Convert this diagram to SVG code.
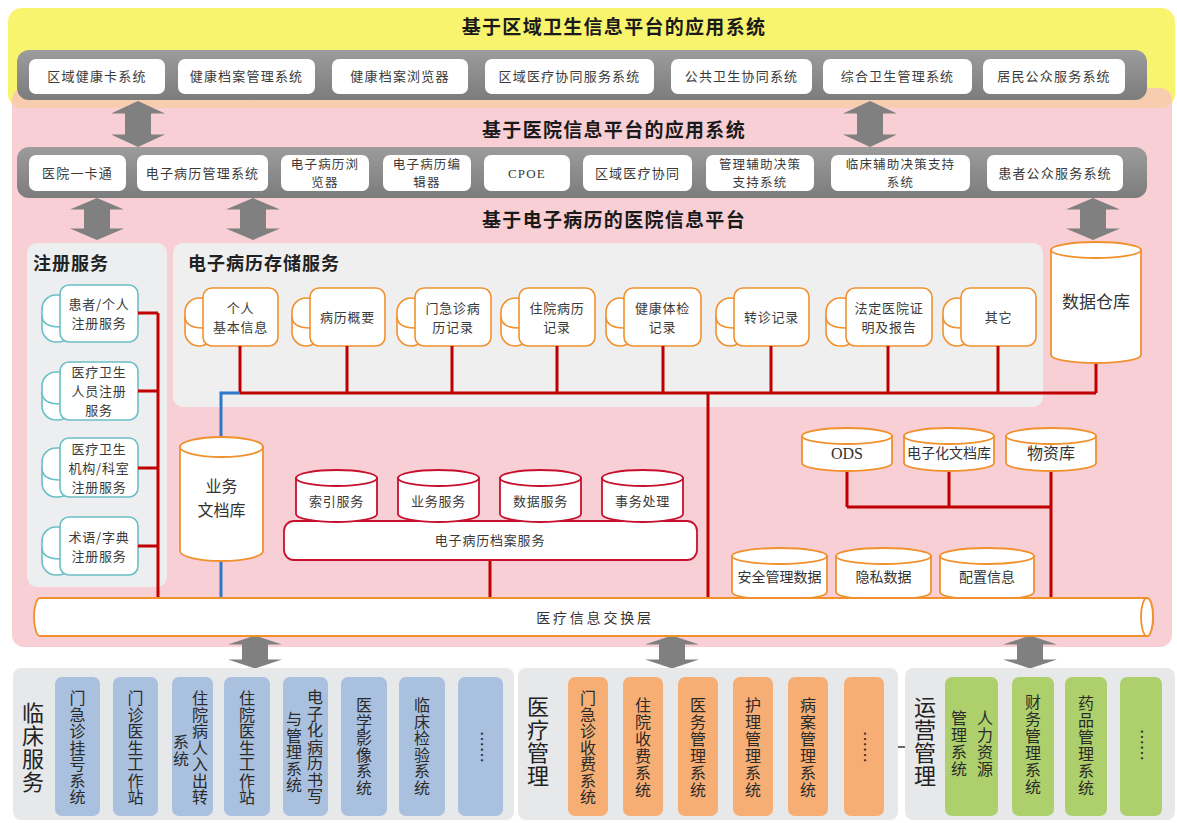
<svg xmlns="http://www.w3.org/2000/svg" width="1177" height="823" viewBox="0 0 1177 823">
<defs>
<style>
text{font-family:"Noto Sans CJK SC","Noto Sans",sans-serif;fill:#333}
.t1{font-size:19px;font-weight:bold;letter-spacing:1.3px;fill:#1a1a1a;text-anchor:middle}
.bar{fill:url(#barg)}
.bx{fill:#fff}
.bt{font-size:13px;letter-spacing:1.2px;text-anchor:middle;fill:#3a3a3a}
.bt2{font-size:12.5px}
.sec{font-size:18px;font-weight:bold;fill:#222;letter-spacing:1px}
.reg{fill:#fff;stroke:#6bbfc6;stroke-width:1.6}
.emr{fill:#fff;stroke:#f0912e;stroke-width:1.6}
.st{font-size:13px;letter-spacing:0.8px;text-anchor:middle;fill:#3a3a3a}
.cyl{fill:#fff;stroke:#f0912e;stroke-width:1.8}
.rcyl{fill:#fff;stroke:#c8102e;stroke-width:1.8}
.ct{font-size:14px;text-anchor:middle;fill:#333}
.red{fill:none;stroke:#c00000;stroke-width:3}
.blue{fill:none;stroke:#2f78c8;stroke-width:3}
.arr{fill:#808080}
.vt{font-size:16px;letter-spacing:0.5px;fill:#2a2a2a;writing-mode:vertical-rl;text-anchor:start}
.vt6{letter-spacing:1px}
.dots{font-size:16px;text-anchor:middle;fill:#2a2a2a}
.lab{font-size:22px;letter-spacing:1px;fill:#222;writing-mode:vertical-rl;text-anchor:start}
.colb{fill:#a9c0de}
.colo{fill:#f6ae74}
.colg{fill:#add06c}
.pan{fill:#e6e8ea}
.lat{font-family:"Liberation Serif",serif}
</style>
<linearGradient id="barg" x1="0" y1="0" x2="0" y2="1">
<stop offset="0" stop-color="#9c9c9c"/><stop offset="1" stop-color="#7c7c7c"/>
</linearGradient>
<path id="dbl" class="arr" d="M0,-22 L27,-10 L13,-10 L13,10 L27,10 L0,22 L-27,10 L-13,10 L-13,-10 L-27,-10 Z"/>
</defs>

<!-- background layers -->
<g id="regional-layer">
<rect x="8" y="8" width="1167" height="100" rx="14" fill="#f9f46e"/>
</g>
<g id="hospital-layer">
<rect x="12" y="88" width="1160" height="559" rx="12" fill="#f6bfc5" fill-opacity="0.75"/>
</g>

<!-- regional application systems -->
<g id="regional-apps">
<text class="t1" x="614" y="34">基于区域卫生信息平台的应用系统</text>
<rect class="bar" x="17" y="50" width="1130" height="50" rx="12"/>
<rect class="bx" x="29" y="59" width="136" height="35" rx="7"/>
<text class="bt" x="97" y="81">区域健康卡系统</text>
<rect class="bx" x="178" y="59" width="137" height="35" rx="7"/>
<text class="bt" x="246.5" y="81">健康档案管理系统</text>
<rect class="bx" x="332" y="59" width="136" height="35" rx="7"/>
<text class="bt" x="400" y="81">健康档案浏览器</text>
<rect class="bx" x="485" y="59" width="169" height="35" rx="7"/>
<text class="bt" x="569.5" y="81">区域医疗协同服务系统</text>
<rect class="bx" x="671" y="59" width="141" height="35" rx="7"/>
<text class="bt" x="741.5" y="81">公共卫生协同系统</text>
<rect class="bx" x="823" y="59" width="149" height="35" rx="7"/>
<text class="bt" x="897.5" y="81">综合卫生管理系统</text>
<rect class="bx" x="983" y="59" width="142" height="35" rx="7"/>
<text class="bt" x="1054" y="81">居民公众服务系统</text>
</g>

<!-- hospital application systems -->
<g id="hospital-apps">
<text class="t1" x="614" y="137">基于医院信息平台的应用系统</text>
<rect class="bar" x="17" y="147" width="1130" height="51" rx="12"/>
<rect class="bx" x="29" y="155" width="97" height="36" rx="7"/>
<text class="bt" x="77.5" y="178">医院一卡通</text>
<rect class="bx" x="137" y="155" width="131" height="36" rx="7"/>
<text class="bt" x="202.5" y="178">电子病历管理系统</text>
<rect class="bx" x="281" y="155" width="88" height="36" rx="7"/>
<text class="bt bt2" x="325" y="168.5">电子病历浏</text>
<text class="bt bt2" x="325" y="187">览器</text>
<rect class="bx" x="383" y="155" width="88" height="36" rx="7"/>
<text class="bt bt2" x="427" y="168.5">电子病历编</text>
<text class="bt bt2" x="427" y="187">辑器</text>
<rect class="bx" x="484" y="155" width="86" height="36" rx="7"/>
<text class="bt lat" x="527" y="178">CPOE</text>
<rect class="bx" x="583" y="155" width="109" height="36" rx="7"/>
<text class="bt" x="637.5" y="178">区域医疗协同</text>
<rect class="bx" x="706" y="155" width="108" height="36" rx="7"/>
<text class="bt bt2" x="760" y="168.5">管理辅助决策</text>
<text class="bt bt2" x="760" y="187">支持系统</text>
<rect class="bx" x="831" y="155" width="139" height="36" rx="7"/>
<text class="bt bt2" x="900.5" y="168.5">临床辅助决策支持</text>
<text class="bt bt2" x="900.5" y="187">系统</text>
<rect class="bx" x="987" y="155" width="136" height="36" rx="7"/>
<text class="bt" x="1055" y="178">患者公众服务系统</text>
</g>

<g id="platform-title">
<text class="t1" x="614" y="227">基于电子病历的医院信息平台</text>
</g>

<!-- registration services -->
<g id="registration-services">
<rect x="27" y="243" width="140" height="344" rx="10" fill="#eceef0"/>
<text class="sec" x="33" y="270">注册服务</text>
<g id="reg-patient">
<rect class="reg" x="42" y="295" width="30" height="47" rx="14"/>
<path class="reg" d="M42,315 Q42,327 60,327" fill="none"/>
<rect class="reg" x="60" y="285" width="78" height="57" rx="9"/>
<text class="st" x="99" y="309">患者/个人</text>
<text class="st" x="99" y="328">注册服务</text>
</g>
<g id="reg-staff">
<rect class="reg" x="42" y="372" width="30" height="48" rx="14"/>
<path class="reg" d="M42,392 Q42,404 60,404" fill="none"/>
<rect class="reg" x="60" y="362" width="78" height="58" rx="9"/>
<text class="st" x="99" y="377">医疗卫生</text>
<text class="st" x="99" y="396">人员注册</text>
<text class="st" x="99" y="415">服务</text>
</g>
<g id="reg-org">
<rect class="reg" x="42" y="448" width="30" height="49" rx="14"/>
<path class="reg" d="M42,468 Q42,480 60,480" fill="none"/>
<rect class="reg" x="60" y="438" width="78" height="59" rx="9"/>
<text class="st" x="99" y="453.5">医疗卫生</text>
<text class="st" x="99" y="472.5">机构/科室</text>
<text class="st" x="99" y="491.5">注册服务</text>
</g>
<g id="reg-term">
<rect class="reg" x="42" y="527" width="30" height="48" rx="14"/>
<path class="reg" d="M42,547 Q42,559 60,559" fill="none"/>
<rect class="reg" x="60" y="517" width="78" height="58" rx="9"/>
<text class="st" x="99" y="541.5">术语/字典</text>
<text class="st" x="99" y="560.5">注册服务</text>
</g>
</g>

<!-- EMR storage services -->
<g id="emr-storage">
<rect x="173" y="243" width="870" height="164" rx="10" fill="#efefef"/>
<text class="sec" x="188" y="270">电子病历存储服务</text>
<g id="st-basic">
<rect class="emr" x="185" y="298" width="28" height="48" rx="14"/>
<path class="emr" d="M185,316 Q185,328 203,328" fill="none"/>
<rect class="emr" x="203" y="288" width="75" height="58" rx="9"/>
<text class="st" x="240.5" y="312.5">个人</text>
<text class="st" x="240.5" y="331.5">基本信息</text>
</g>
<g id="st-summary">
<rect class="emr" x="292" y="298" width="28" height="48" rx="14"/>
<path class="emr" d="M292,316 Q292,328 310,328" fill="none"/>
<rect class="emr" x="310" y="288" width="75" height="58" rx="9"/>
<text class="st" x="347.5" y="322">病历概要</text>
</g>
<g id="st-outpatient">
<rect class="emr" x="397" y="298" width="28" height="48" rx="14"/>
<path class="emr" d="M397,316 Q397,328 415,328" fill="none"/>
<rect class="emr" x="415" y="288" width="76" height="58" rx="9"/>
<text class="st" x="453" y="312.5">门急诊病</text>
<text class="st" x="453" y="331.5">历记录</text>
</g>
<g id="st-inpatient">
<rect class="emr" x="501" y="298" width="28" height="48" rx="14"/>
<path class="emr" d="M501,316 Q501,328 519,328" fill="none"/>
<rect class="emr" x="519" y="288" width="76" height="58" rx="9"/>
<text class="st" x="557" y="312.5">住院病历</text>
<text class="st" x="557" y="331.5">记录</text>
</g>
<g id="st-checkup">
<rect class="emr" x="606" y="298" width="28" height="48" rx="14"/>
<path class="emr" d="M606,316 Q606,328 624,328" fill="none"/>
<rect class="emr" x="624" y="288" width="77" height="58" rx="9"/>
<text class="st" x="662.5" y="312.5">健康体检</text>
<text class="st" x="662.5" y="331.5">记录</text>
</g>
<g id="st-referral">
<rect class="emr" x="716" y="298" width="28" height="48" rx="14"/>
<path class="emr" d="M716,316 Q716,328 734,328" fill="none"/>
<rect class="emr" x="734" y="288" width="75" height="58" rx="9"/>
<text class="st" x="771.5" y="322">转诊记录</text>
</g>
<g id="st-legal">
<rect class="emr" x="826" y="298" width="30" height="48" rx="14"/>
<path class="emr" d="M826,316 Q826,328 846,328" fill="none"/>
<rect class="emr" x="846" y="288" width="86" height="58" rx="9"/>
<text class="st" x="889" y="312.5">法定医院证</text>
<text class="st" x="889" y="331.5">明及报告</text>
</g>
<g id="st-other">
<rect class="emr" x="943" y="298" width="28" height="48" rx="14"/>
<path class="emr" d="M943,316 Q943,328 961,328" fill="none"/>
<rect class="emr" x="961" y="288" width="75" height="58" rx="9"/>
<text class="st" x="998.5" y="322">其它</text>
</g>
</g>

<!-- connectors -->
<g id="connectors">
<g id="arrows">
<use href="#dbl" transform="translate(138,124) scale(1,1.045)"/>
<use href="#dbl" transform="translate(870,124) scale(1,1.045)"/>
<use href="#dbl" transform="translate(97,219) scale(1,0.955)"/>
<use href="#dbl" transform="translate(253,219) scale(1,0.955)"/>
<use href="#dbl" transform="translate(1093,219) scale(1,0.955)"/>
<use href="#dbl" transform="translate(255,652) scale(1,0.75)"/>
<use href="#dbl" transform="translate(672,652) scale(1,0.75)"/>
<use href="#dbl" transform="translate(1030,652) scale(1,0.75)"/>
</g>
<path class="red" d="M138,313 H158 M138,391 H158 M138,468 H158 M138,546 H158 M158,313 V598"/>
<path class="red" d="M240,346 V393 M347,346 V393 M452,346 V393 M557,346 V393 M663,346 V393 M771,346 V393 M888,346 V393 M998,346 V393 M1096,363 V393 M240,393 H1096"/>
<path class="red" d="M708,393 V598"/>
<path class="red" d="M490,560 V598"/>
<path class="red" d="M847,471 V507 M949,471 V507 M1051,471 V598 M847,507 H1051"/>
<path class="blue" d="M240,393 H221 V437 M221,561 V598"/>
</g>

<!-- repositories -->
<g id="business-docs">
<path class="cyl" d="M180,447 V551 A41.5,10 0 0 0 263,551 V447 Z"/>
<ellipse class="cyl" cx="221.5" cy="447" rx="41.5" ry="10"/>
<text class="ct" x="221.5" y="492" style="font-size:16px">业务</text>
<text class="ct" x="221.5" y="515.5" style="font-size:16px">文档库</text>
</g>
<g id="data-warehouse">
<path class="cyl" d="M1051,250 V355 A45,8 0 0 0 1141,355 V250 Z"/>
<ellipse class="cyl" cx="1096" cy="250" rx="45" ry="8"/>
<text class="ct" x="1096" y="308" style="font-size:17px">数据仓库</text>
</g>

<g id="emr-archive-service">
<rect class="rcyl" x="284" y="521" width="413" height="39" rx="10"/>
<text class="st" x="490" y="545">电子病历档案服务</text>
<g id="index-service">
<path class="rcyl" d="M296,478 V514 A40.5,8 0 0 0 377,514 V478 Z"/>
<ellipse class="rcyl" cx="336.5" cy="478" rx="40.5" ry="8"/>
<text class="st" x="336.5" y="506">索引服务</text>
</g>
<g id="business-service">
<path class="rcyl" d="M398,478 V514 A40.5,8 0 0 0 479,514 V478 Z"/>
<ellipse class="rcyl" cx="438.5" cy="478" rx="40.5" ry="8"/>
<text class="st" x="438.5" y="506">业务服务</text>
</g>
<g id="data-service">
<path class="rcyl" d="M500,478 V514 A40.5,8 0 0 0 581,514 V478 Z"/>
<ellipse class="rcyl" cx="540.5" cy="478" rx="40.5" ry="8"/>
<text class="st" x="540.5" y="506">数据服务</text>
</g>
<g id="transaction-service">
<path class="rcyl" d="M602,478 V514 A40.5,8 0 0 0 683,514 V478 Z"/>
<ellipse class="rcyl" cx="642.5" cy="478" rx="40.5" ry="8"/>
<text class="st" x="642.5" y="506">事务处理</text>
</g>
</g>

<g id="ods">
<path class="cyl" d="M802,436 V463 A45,8 0 0 0 892,463 V436 Z"/>
<ellipse class="cyl" cx="847" cy="436" rx="45" ry="8"/>
<text class="ct lat" x="847" y="459" style="font-size:16px">ODS</text>
</g>
<g id="e-archive">
<path class="cyl" d="M904,436 V463 A45,8 0 0 0 994,463 V436 Z"/>
<ellipse class="cyl" cx="949" cy="436" rx="45" ry="8"/>
<text class="ct" x="949" y="458">电子化文档库</text>
</g>
<g id="supplies">
<path class="cyl" d="M1006,436 V463 A45,8 0 0 0 1096,463 V436 Z"/>
<ellipse class="cyl" cx="1051" cy="436" rx="45" ry="8"/>
<text class="ct" x="1051" y="459" style="font-size:16px">物资库</text>
</g>
<g id="security-data">
<path class="cyl" d="M732,556 V592 A47.5,8 0 0 0 827,592 V556 Z"/>
<ellipse class="cyl" cx="779.5" cy="556" rx="47.5" ry="8"/>
<text class="ct" x="779.5" y="582">安全管理数据</text>
</g>
<g id="privacy-data">
<path class="cyl" d="M836,556 V592 A47.5,8 0 0 0 931,592 V556 Z"/>
<ellipse class="cyl" cx="883.5" cy="556" rx="47.5" ry="8"/>
<text class="ct" x="883.5" y="582">隐私数据</text>
</g>
<g id="config-info">
<path class="cyl" d="M940,556 V592 A47,8 0 0 0 1034,592 V556 Z"/>
<ellipse class="cyl" cx="987" cy="556" rx="47" ry="8"/>
<text class="ct" x="987" y="582">配置信息</text>
</g>

<!-- exchange bus -->
<g id="exchange-layer">
<path class="cyl" d="M40,598 H1147 A6,19 0 0 1 1147,636 H40 A6,19 0 0 1 40,598 Z"/>
<ellipse class="cyl" cx="1147" cy="617" rx="6" ry="19"/>
<text class="ct" x="595" y="623" style="letter-spacing:2.8px">医疗信息交换层</text>
</g>

<!-- clinical services -->
<g id="clinical">
<rect class="pan" x="13" y="668" width="501" height="152" rx="8"/>
<text class="lab" x="33" y="702">临床服务</text>
<rect class="colb" x="55" y="677" width="45" height="139" rx="7"/>
<text class="vt" x="77.5" y="690">门急诊挂号系统</text>
<rect class="colb" x="113" y="677" width="45" height="139" rx="7"/>
<text class="vt" x="135.5" y="690">门诊医生工作站</text>
<rect class="colb" x="172" y="677" width="41" height="139" rx="7"/>
<text class="vt" x="200" y="690">住院病人入出转</text>
<text class="vt" x="181" y="734">系统</text>
<rect class="colb" x="224" y="677" width="46" height="139" rx="7"/>
<text class="vt" x="247" y="690">住院医生工作站</text>
<rect class="colb" x="283" y="677" width="45" height="139" rx="7"/>
<text class="vt" x="315" y="689">电子化病历书写</text>
<text class="vt" x="294" y="711">与管理系统</text>
<rect class="colb" x="341" y="677" width="46" height="139" rx="7"/>
<text class="vt" x="364" y="697">医学影像系统</text>
<rect class="colb" x="399" y="677" width="46" height="139" rx="7"/>
<text class="vt" x="422" y="697">临床检验系统</text>
<rect class="colb" x="458" y="677" width="45" height="139" rx="7"/>
<text class="dots" transform="translate(480.5,747) rotate(90)" x="0" y="5">……</text>
</g>

<!-- medical management -->
<g id="medical-management">
<rect class="pan" x="518" y="668" width="380" height="152" rx="8"/>
<text class="lab" x="538" y="696">医疗管理</text>
<rect class="colo" x="568" y="677" width="40" height="139" rx="7"/>
<text class="vt" x="588" y="690">门急诊收费系统</text>
<rect class="colo" x="623" y="677" width="40" height="139" rx="7"/>
<text class="vt vt6" x="643" y="697">住院收费系统</text>
<rect class="colo" x="678" y="677" width="40" height="139" rx="7"/>
<text class="vt vt6" x="698" y="697">医务管理系统</text>
<rect class="colo" x="733" y="677" width="40" height="139" rx="7"/>
<text class="vt vt6" x="753" y="697">护理管理系统</text>
<rect class="colo" x="788" y="677" width="40" height="139" rx="7"/>
<text class="vt vt6" x="808" y="697">病案管理系统</text>
<rect class="colo" x="844" y="677" width="40" height="139" rx="7"/>
<text class="dots" transform="translate(864,747) rotate(90)" x="0" y="5">……</text>
</g>

<line id="panel-divider" x1="898" y1="747" x2="909" y2="747" stroke="#333" stroke-width="1.5"/>

<!-- operations management -->
<g id="operations-management">
<rect class="pan" x="905" y="668" width="270" height="152" rx="8"/>
<text class="lab" x="925" y="696">运营管理</text>
<rect class="colg" x="945" y="677" width="53" height="139" rx="7"/>
<text class="vt vt6" x="985" y="710">人力资源</text>
<text class="vt vt6" x="959" y="710">管理系统</text>
<rect class="colg" x="1012" y="677" width="42" height="139" rx="7"/>
<text class="vt vt6" x="1033" y="694">财务管理系统</text>
<rect class="colg" x="1065" y="677" width="42" height="139" rx="7"/>
<text class="vt vt6" x="1086" y="695">药品管理系统</text>
<rect class="colg" x="1120" y="677" width="42" height="139" rx="7"/>
<text class="dots" transform="translate(1141,745) rotate(90)" x="0" y="5">……</text>
</g>
</svg>
